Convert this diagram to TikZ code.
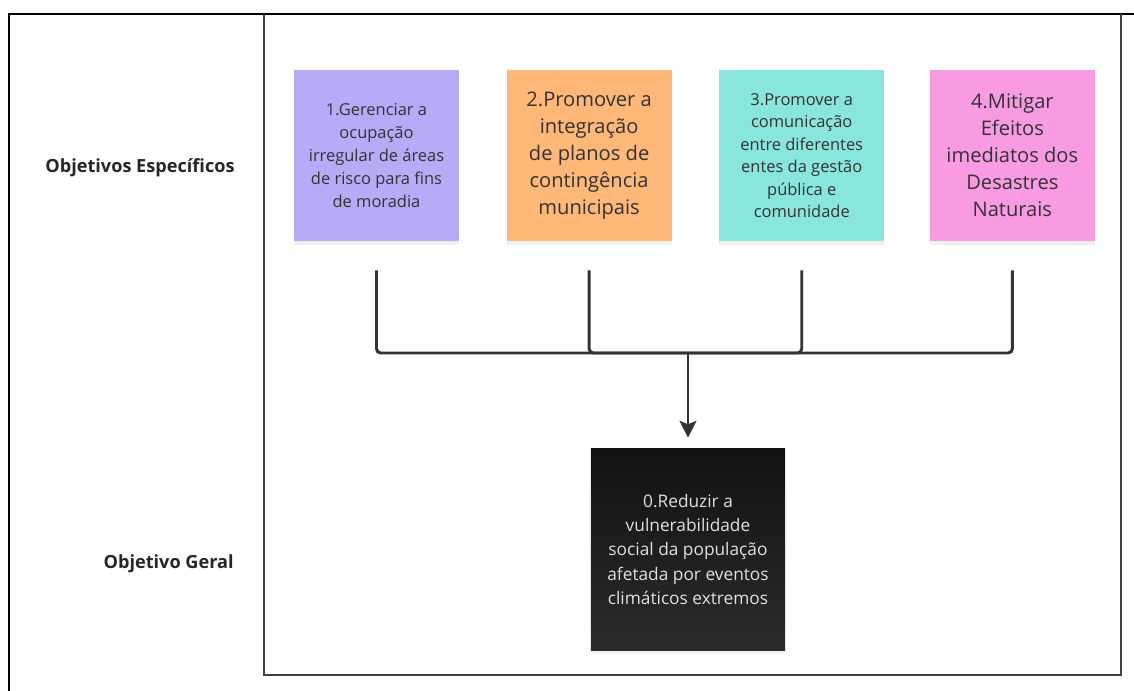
\documentclass[tikz,border=0pt]{standalone}
\usepackage{fontspec}
\setmainfont{Open Sans}
\usetikzlibrary{arrows.meta,calc,positioning,shadows}
\definecolor{lilas}{HTML}{B7AAF6}
\definecolor{laranja}{HTML}{FFB877}
\definecolor{turquesa}{HTML}{89E6DC}
\definecolor{rosa}{HTML}{F89BE2}
\definecolor{tinta}{HTML}{333333}
\tikzset{%
	objetivo/.style = {rectangle, minimum width=4.125cm, minimum height=4.275cm, align=center, text=tinta, inner sep=0pt, drop shadow={opacity=0.12, shadow xshift=0pt, shadow yshift=-3pt}},
	pequeno/.style  = {font=\fontsize{11.7}{16.5}\selectfont},
	grande/.style   = {font=\fontsize{14.3}{19.2}\selectfont},
	geral/.style    = {objetivo, minimum width=4.85cm, minimum height=5.025cm, top color=black!93, bottom color=black!83, text=black!12, font=\fontsize{12.3}{17.4}\selectfont},
	rotulo/.style   = {font=\fontsize{12.9}{15}\selectfont\bfseries, text=black!85, inner sep=0pt},
	linha/.style    = {draw=tinta, line width=2.1pt, rounded corners=3pt, shorten <=0.725cm},
	seta/.style     = {draw=tinta, line width=2.1pt, -{Stealth[length=12pt,width=12pt,inset=2.5pt]}, shorten >=0.275cm},
}
\begin{document}
\begin{tikzpicture}[x=0.025cm,y=-0.025cm]
	\useasboundingbox (0,0) rectangle (1134,691);
	% quadro
	\draw[line width=1.5pt] (9,691) -- (9,14) -- (1134,14);
	\draw[line width=1.2pt, draw=black!75] (264,14) -- (264,675) -- (1121,675) -- (1121,14);
	\node[rotulo] (especificos) at (140,168) {Objetivos Específicos};
	\node[rotulo, anchor=east] (geral) at (234,564) {Objetivo Geral};
	% objetivos
	\node[objetivo, pequeno, fill=lilas] (gerenciar) at (376.5,155.5) {1.Gerenciar a\\ocupação\\irregular de áreas\\de risco para fins\\de moradia};
	\node[objetivo, grande, fill=laranja, right=1.175cm of gerenciar] (integracao) {2.Promover a\\integração\\de planos de\\contingência\\municipais};
	\node[objetivo, fill=turquesa, right=1.175cm of integracao, font=\fontsize{11.7}{16}\selectfont] (comunicacao) {3.Promover a\\comunicação\\entre diferentes\\entes da gestão\\pública e\\comunidade};
	\node[objetivo, grande, fill=rosa, right=1.125cm of comunicacao] (mitigar) {4.Mitigar\\Efeitos\\imediatos dos\\Desastres\\Naturais};
	\node[geral] (reduzir) at (688,549.5) {0.Reduzir a\\vulnerabilidade\\social da população\\afetada por eventos\\climáticos extremos};
	% ligacoes
	\coordinate (juncao) at (688,353);
	\foreach \n in {gerenciar,integracao,comunicacao,mitigar}
		\draw[linha] (\n) |- (juncao);
	\draw[seta] (juncao) -- (reduzir);
\end{tikzpicture}
\end{document}
